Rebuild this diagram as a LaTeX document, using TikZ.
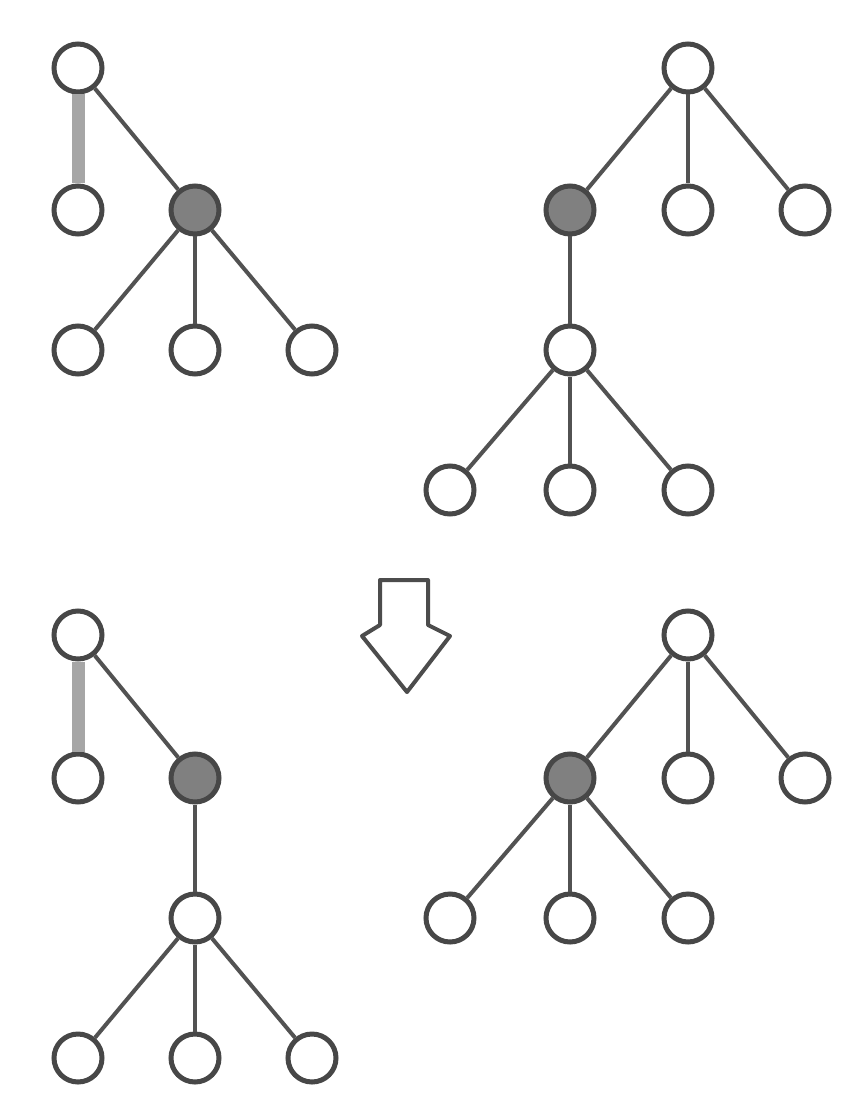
\documentclass[tikz,border=0pt]{standalone}
\begin{document}
\begin{tikzpicture}[x=1pt,y=-1pt,
  nd/.style={circle,draw=black!72,line width=5pt,fill=white,minimum size=48pt,inner sep=0pt},
  hub/.style={nd,fill=black!50},
  edge/.style={draw=black!68,line width=4pt},
  link/.style={draw=black!35,line width=13pt}]
\fill[white] (0,0) rectangle (854,1107);
\useasboundingbox (0,0) rectangle (854,1107);
% top-left
\node[nd] (a1) at (78,68) {};
\node[nd] (b1) at (78,210) {};
\node[hub] (c1) at (195,210) {};
\node[nd] (d1) at (78,350) {};
\node[nd] (e1) at (195,350) {};
\node[nd] (f1) at (312,350) {};
\begin{scope}[on background layer/.try]
\end{scope}
\draw[link] (a1) -- (b1);
\draw[edge] (a1) -- (c1);
\draw[edge] (c1) -- (d1);
\draw[edge] (c1) -- (e1);
\draw[edge] (c1) -- (f1);
% top-right
\node[nd] (r2) at (688,68) {};
\node[hub] (c2) at (570,210) {};
\node[nd] (g2) at (688,210) {};
\node[nd] (h2) at (805,210) {};
\node[nd] (m2) at (570,350) {};
\node[nd] (d2) at (450,490) {};
\node[nd] (e2) at (570,490) {};
\node[nd] (f2) at (688,490) {};
\draw[edge] (r2) -- (c2);
\draw[edge] (r2) -- (g2);
\draw[edge] (r2) -- (h2);
\draw[edge] (c2) -- (m2);
\draw[edge] (m2) -- (d2);
\draw[edge] (m2) -- (e2);
\draw[edge] (m2) -- (f2);
% arrow
\draw[draw=black!70,line width=4pt,fill=white,line join=round]
  (380,580) -- (428,580) -- (428,625) -- (450,636) -- (407,692) -- (362,636) -- (380,625) -- cycle;
% bottom-left
\node[nd] (a3) at (78,635) {};
\node[nd] (b3) at (78,778) {};
\node[hub] (c3) at (195,778) {};
\node[nd] (m3) at (195,918) {};
\node[nd] (d3) at (78,1058) {};
\node[nd] (e3) at (195,1058) {};
\node[nd] (f3) at (312,1058) {};
\draw[link] (a3) -- (b3);
\draw[edge] (a3) -- (c3);
\draw[edge] (c3) -- (m3);
\draw[edge] (m3) -- (d3);
\draw[edge] (m3) -- (e3);
\draw[edge] (m3) -- (f3);
% bottom-right
\node[nd] (r4) at (688,635) {};
\node[hub] (c4) at (570,778) {};
\node[nd] (g4) at (688,778) {};
\node[nd] (h4) at (805,778) {};
\node[nd] (d4) at (450,918) {};
\node[nd] (e4) at (570,918) {};
\node[nd] (f4) at (688,918) {};
\draw[edge] (r4) -- (c4);
\draw[edge] (r4) -- (g4);
\draw[edge] (r4) -- (h4);
\draw[edge] (c4) -- (d4);
\draw[edge] (c4) -- (e4);
\draw[edge] (c4) -- (f4);
\end{tikzpicture}
\end{document}
